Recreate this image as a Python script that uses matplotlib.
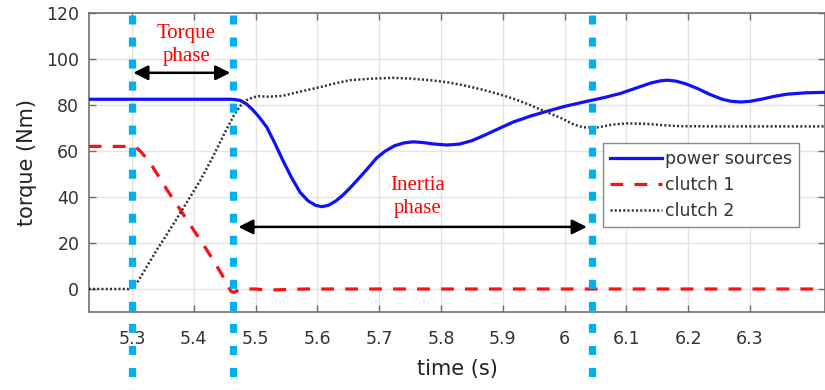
# torque during clutch-to-clutch shift (torque phase / inertia phase)
import matplotlib
matplotlib.use("Agg")
import matplotlib.pyplot as plt

# --- data ---
t_power = [5.23, 5.46, 5.465, 5.475, 5.485, 5.495, 5.505, 5.518, 5.53, 5.544, 5.558, 5.572,
           5.585, 5.597, 5.607, 5.618, 5.63, 5.642, 5.653, 5.665, 5.68, 5.696, 5.71, 5.725,
           5.74, 5.755, 5.77, 5.79, 5.81, 5.83, 5.85, 5.87, 5.89, 5.917, 5.945, 5.972,
           6.00, 6.036, 6.065, 6.09, 6.115, 6.14, 6.155, 6.166, 6.18, 6.195, 6.214, 6.235,
           6.255, 6.27, 6.285, 6.30, 6.32, 6.34, 6.36, 6.39, 6.42]
power = [82.5, 82.5, 82.4, 82, 80.5, 78, 75, 70.4, 64, 56, 48.5, 42,
         38.3, 36.4, 35.8, 36.4, 38.3, 41, 44, 47.5, 52, 57, 60, 62.3,
         63.5, 64, 63.7, 63, 62.6, 63, 64.5, 66.8, 69.3, 72.6, 75.2, 77.3,
         79.4, 81.6, 83.3, 85, 87.3, 89.6, 90.5, 90.8, 90.4, 89.3, 87.3, 84.6,
         82.5, 81.6, 81.3, 81.6, 82.6, 83.8, 84.7, 85.3, 85.5]

t_c1 = [5.23, 5.30, 5.307, 5.315, 5.329, 5.343, 5.357, 5.373, 5.389, 5.405, 5.421, 5.435,
        5.447, 5.455, 5.46, 5.465, 5.47, 5.48, 5.50, 5.52, 5.55, 5.58, 6.42]
clutch1 = [62, 62, 61.5, 59.5, 55, 49, 43, 36.5, 30, 23.5, 17, 11,
           5.5, 1.5, -1, -1.5, -0.8, 0, 0, -0.5, -0.2, 0, 0]

t_c2 = [5.23, 5.295, 5.302, 5.31, 5.319, 5.329, 5.34, 5.35, 5.364, 5.378, 5.394, 5.41,
        5.43, 5.454, 5.465, 5.475, 5.485, 5.495, 5.505, 5.52, 5.544, 5.57, 5.60, 5.63,
        5.653, 5.69, 5.722, 5.75, 5.782, 5.81, 5.836, 5.865, 5.89, 5.92, 5.944, 5.97,
        5.997, 6.015, 6.03, 6.052, 6.078, 6.10, 6.133, 6.16, 6.187, 6.25, 6.42]
clutch2 = [0, 0, 1, 3.5, 7.5, 12, 17, 21, 27, 33, 40, 47,
           57, 70, 75.5, 79.5, 82, 83.3, 83.8, 83.6, 84, 85.7, 87.5, 89.5,
           90.8, 91.5, 91.8, 91.5, 90.8, 89.9, 88.6, 86.8, 85, 82.5, 80, 77,
           74, 71.5, 70.3, 70.2, 71.5, 72, 71.8, 71.2, 70.8, 70.7, 70.7]

phase_marks = [5.2995, 5.464, 6.044]   # vertical dotted markers
x_ticks = [5.3, 5.4, 5.5, 5.6, 5.7, 5.8, 5.9, 6.0, 6.1, 6.2, 6.3]
x_ticklabels = ["5.3", "5.4", "5.5", "5.6", "5.7", "5.8", "5.9", "6", "6.1", "6.2", "6.3"]
y_ticks = [0, 20, 40, 60, 80, 100, 120]

fig = plt.figure(figsize=(8.25, 3.9), dpi=100)
ax = fig.add_axes([89 / 825, 1 - 312 / 390, 1 - 89 / 825, 299 / 390])

ax.plot(t_power, power, color="#1010ff", lw=2.3, label="power sources", zorder=3)
ax.plot(t_c1, clutch1, color="#ff1010", lw=2.3, dashes=(4, 3.5), label="clutch 1", zorder=3)
ax.plot(t_c2, clutch2, color="#303030", lw=1.8, linestyle=(0, (0.8, 0.9)), label="clutch 2", zorder=3)

ax.set_xlim(5.2304, 6.4214)
ax.set_ylim(-10, 120)
ax.set_xticks(x_ticks)
ax.set_xticklabels(x_ticklabels)
ax.set_yticks(y_ticks)
ax.grid(True, color="#e4e4e4", lw=1.0)
ax.set_axisbelow(True)
ax.tick_params(direction="in", length=5, width=1, colors="#707070", labelcolor="#333333",
               labelsize=12.5, top=True, right=True)
ax.tick_params(axis="x", pad=13)
ax.tick_params(axis="y", pad=7)
for s in ax.spines.values():
    s.set_color("#707070")
    s.set_linewidth(1.2)

ax.set_xlabel("time (s)", fontsize=15, color="#222222", labelpad=8)
ax.set_ylabel("torque (Nm)", fontsize=15, color="#222222", labelpad=7)

# phase markers running past the axes
for x in phase_marks:
    ax.plot([x, x], [0.993, -0.3], transform=ax.get_xaxis_transform(), clip_on=False,
            color="#00b0f0", lw=5.2, dashes=(1.25, 1.8), solid_capstyle="butt",
            dash_capstyle="butt", zorder=5)

arrow = dict(arrowstyle="<|-|>", color="black", lw=1.8, mutation_scale=22, shrinkA=0, shrinkB=0)
ax.annotate("", xy=(5.459, 94), xytext=(5.302, 94), arrowprops=arrow, zorder=6)
ax.annotate("", xy=(6.036, 27), xytext=(5.472, 27), arrowprops=arrow, zorder=6)

ax.text(5.388, 106, "Torque\nphase", color="red", fontsize=15, family="Liberation Serif",
        ha="center", va="center", linespacing=1.3)
ax.text(5.762, 40, "Inertia\nphase", color="red", fontsize=15, family="Liberation Serif",
        ha="center", va="center", linespacing=1.3)

leg = ax.legend(loc="upper left", bbox_to_anchor=(0.698, 0.565), borderaxespad=0,
                fontsize=12.5, fancybox=False, framealpha=1, edgecolor="#888888",
                handlelength=3.0, handletextpad=0.2, labelspacing=0.45, borderpad=0.4)
for txt in leg.get_texts():
    txt.set_color("#333333")

fig.savefig("out.png", dpi=100)
